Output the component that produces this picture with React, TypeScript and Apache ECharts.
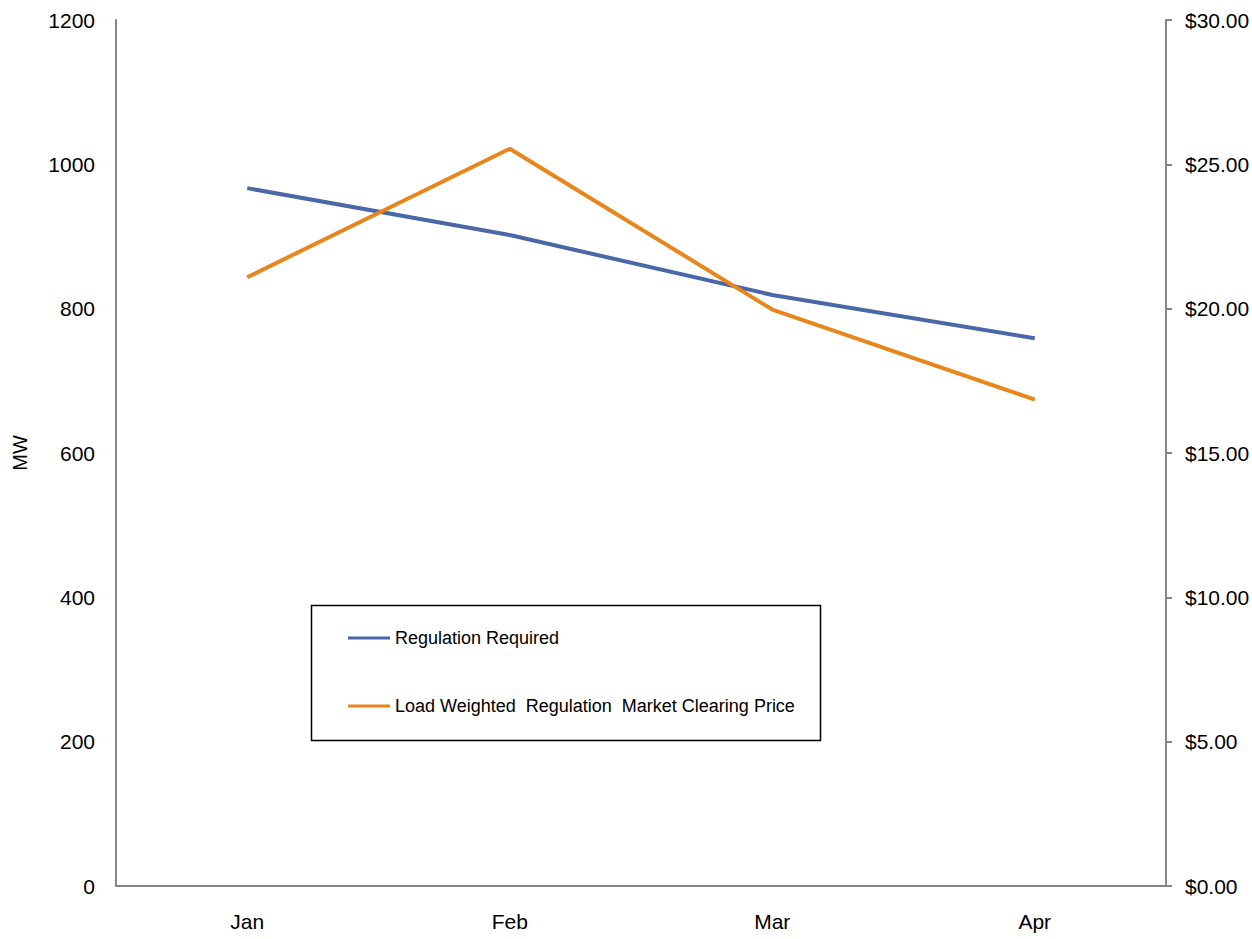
import React, { useEffect, useRef } from "react";
import * as echarts from "echarts";

const months = ["Jan", "Feb", "Mar", "Apr"];
const regulationRequired = [967, 902, 819, 759];
const clearingPrice = [21.09, 25.54, 19.97, 16.85];
const seriesNames = ["Regulation Required", "Load Weighted  Regulation  Market Clearing Price"];

const FONT = "'Liberation Sans Narrow', 'Arial Narrow', 'Liberation Sans', Arial, sans-serif";

export default function App() {
  const ref = useRef<HTMLDivElement>(null);
  useEffect(() => {
    const chart = echarts.init(ref.current!, null, { renderer: "svg" });
    chart.setOption({
      animation: false,
      backgroundColor: "#ffffff",
      textStyle: { fontFamily: FONT },
      grid: { left: 116, right: 86, top: 20, bottom: 53, containLabel: false, outerBoundsMode: "none" },
      legend: {
        orient: "vertical",
        left: 348,
        top: 626,
        padding: 0,
        itemWidth: 42,
        itemHeight: 3,
        itemGap: 44,
        icon: "rect",
        textStyle: { fontFamily: FONT, fontSize: 18, color: "#000", lineHeight: 24 },
        data: seriesNames,
      },
      graphic: [
        {
          type: "rect",
          shape: { x: 311.5, y: 605.5, width: 509, height: 135 },
          style: { fill: "none", stroke: "#000", lineWidth: 1.5 },
          z: 10,
        },
      ],
      xAxis: {
        type: "category",
        data: months,
        boundaryGap: true,
        axisLine: { lineStyle: { color: "#868686", width: 2 } },
        axisTick: { show: false },
        axisLabel: { fontFamily: FONT, fontSize: 21, color: "#000", margin: 25 },
      },
      yAxis: [
        {
          type: "value",
          min: 0,
          max: 1200,
          interval: 200,
          name: "MW",
          nameLocation: "middle",
          nameGap: 86,
          nameRotate: 90,
          nameTextStyle: { fontFamily: FONT, fontSize: 20, color: "#000" },
          axisLine: { show: true, lineStyle: { color: "#868686", width: 2 } },
          axisTick: { show: false },
          splitLine: { show: false },
          axisLabel: {
            fontFamily: FONT,
            fontSize: 21,
            color: "#000",
            margin: 21,
            formatter: (v: number) => String(v),
          },
        },
        {
          type: "value",
          min: 0,
          max: 30,
          interval: 5,
          position: "right",
          axisLine: { show: true, lineStyle: { color: "#868686", width: 2 } },
          axisTick: { show: true, inside: false, length: 6, lineStyle: { color: "#868686", width: 2 } },
          splitLine: { show: false },
          axisLabel: {
            fontFamily: FONT,
            fontSize: 21,
            color: "#000",
            margin: 19,
            formatter: (v: number) => "$" + v.toFixed(2),
          },
        },
      ],
      series: [
        {
          name: seriesNames[0],
          type: "line",
          yAxisIndex: 0,
          data: regulationRequired,
          symbol: "none",
          lineStyle: { color: "#4A68A8", width: 4 },
          itemStyle: { color: "#4A68A8" },
        },
        {
          name: seriesNames[1],
          type: "line",
          yAxisIndex: 1,
          data: clearingPrice,
          symbol: "none",
          lineStyle: { color: "#E8861C", width: 4 },
          itemStyle: { color: "#E8861C" },
        },
      ],
    });
    return () => chart.dispose();
  }, []);
  return (
    <div
      ref={ref}
      style={{ position: "absolute", left: 0, top: 0, width: 1252, height: 939 }}
    />
  );
}
